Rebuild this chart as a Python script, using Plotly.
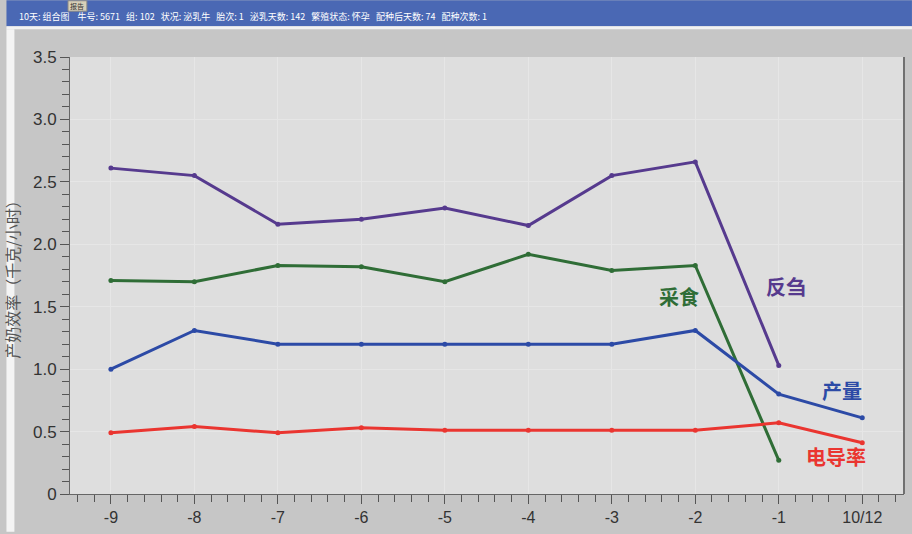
import plotly.graph_objects as go

categories = ["-9", "-8", "-7", "-6", "-5", "-4", "-3", "-2", "-1", "10/12"]
rumination = [2.61, 2.55, 2.16, 2.20, 2.29, 2.15, 2.55, 2.66, 1.03, None]
feeding = [1.71, 1.70, 1.83, 1.82, 1.70, 1.92, 1.79, 1.83, 0.27, None]
milk_yield = [1.00, 1.31, 1.20, 1.20, 1.20, 1.20, 1.20, 1.31, 0.80, 0.61]
conductivity = [0.49, 0.54, 0.49, 0.53, 0.51, 0.51, 0.51, 0.51, 0.57, 0.41]
y_ticks = [0, 0.5, 1.0, 1.5, 2.0, 2.5, 3.0, 3.5]
y_ticktext = ["0", "0.5", "1.0", "1.5", "2.0", "2.5", "3.0", "3.5"]

series = [
    ("反刍", rumination, "#563a8e", 8.09, 1.66),
    ("采食", feeding, "#2f6d36", 6.81, 1.58),
    ("产量", milk_yield, "#2c4aa6", 8.76, 0.83),
    ("电导率", conductivity, "#ea3530", 8.68, 0.30),
]

# figure geometry helpers (pixels -> paper coords of the plot area)
L, R, T, B, W, H = 64, 8, 57, 38, 912, 534
PW, PH = W - L - R, H - T - B


def px(x):
    return (x - L) / PW


def py(y):
    return (H - B - y) / PH


xs = list(range(len(categories)))
fig = go.Figure()
annotations = []
for name, vals, color, lx, ly in series:
    fig.add_trace(go.Scatter(
        x=xs, y=vals, mode="lines+markers", name=name,
        line=dict(color=color, width=3),
        marker=dict(color=color, size=5),
        connectgaps=False,
    ))
    annotations.append(dict(
        x=lx, y=ly, xref="x", yref="y", text="<b>%s</b>" % name,
        showarrow=False, font=dict(family="Noto Sans CJK SC", size=20, color=color),
    ))

header = ("10天: 组合图    牛号: 5671   组: 102   状况: 泌乳牛   胎次: 1   泌乳天数: 142   "
          "繁殖状态: 怀孕   配种后天数: 74   配种次数: 1")
annotations.append(dict(
    x=px(11), y=py(16), xref="paper", yref="paper", xanchor="left", yanchor="middle",
    text=header, showarrow=False, font=dict(family="Noto Sans CJK SC", size=9, color="white"),
))
annotations.append(dict(
    x=px(71), y=py(5.5), xref="paper", yref="paper", xanchor="center", yanchor="middle",
    text="报告", showarrow=False, font=dict(family="Noto Sans CJK SC", size=7, color="#333333"),
))

shapes = [
    dict(type="rect", xref="paper", yref="paper", x0=px(0), x1=px(W),
         y0=py(26), y1=py(0), fillcolor="#4a68b4", line=dict(width=0), layer="below"),
    dict(type="rect", xref="paper", yref="paper", x0=px(0), x1=px(W),
         y0=py(29), y1=py(26), fillcolor="#f2f2f2", line=dict(width=0), layer="below"),
    dict(type="rect", xref="paper", yref="paper", x0=px(0), x1=px(8),
         y0=py(H), y1=py(29), fillcolor="#f4f4f4", line=dict(width=0), layer="below"),
    dict(type="rect", xref="paper", yref="paper", x0=px(62), x1=px(81),
         y0=py(11), y1=py(0.5), fillcolor="#d8d0b8",
         line=dict(width=1, color="#888888"), layer="below"),
    dict(type="line", xref="paper", yref="paper", x0=1, x1=1, y0=0, y1=1,
         line=dict(width=2, color="#707070")),
]

fig.update_layout(
    width=W, height=H,
    margin=dict(l=L, r=R, t=T, b=B),
    paper_bgcolor="#c6c6c6",
    plot_bgcolor="#dedede",
    showlegend=False,
    annotations=annotations,
    shapes=shapes,
    font=dict(family="Liberation Sans", color="#333333"),
)
fig.update_xaxes(
    range=[-0.49, 9.5], tickmode="array", tickvals=xs, ticktext=categories,
    ticks="outside", ticklen=9, tickwidth=1, tickcolor="#555555",
    showline=True, linecolor="#666666", linewidth=1,
    showgrid=True, gridcolor="#e6e6e6", gridwidth=1, zeroline=False,
    tickfont=dict(size=16, color="#333333", family="Liberation Sans"),
    minor=dict(tickmode="linear", tick0=0, dtick=0.2, ticks="outside", ticklen=7,
               tickcolor="#555555", showgrid=False),
)
fig.update_yaxes(
    range=[0, 3.5], tickmode="array", tickvals=y_ticks, ticktext=y_ticktext,
    ticks="outside", ticklen=9, tickwidth=1, tickcolor="#555555",
    showline=True, linecolor="#666666", linewidth=1,
    showgrid=True, gridcolor="#e6e6e6", gridwidth=1, zeroline=False,
    tickfont=dict(size=17, color="#333333", family="Liberation Sans"),
    title=dict(text="产奶效率（千克/小时）", font=dict(size=16, color="#555555", family="Noto Sans CJK SC"),
               standoff=14),
    minor=dict(tickmode="linear", tick0=0, dtick=0.1, ticks="outside", ticklen=7,
               tickcolor="#555555", showgrid=False),
)

fig.write_html("out.html")
